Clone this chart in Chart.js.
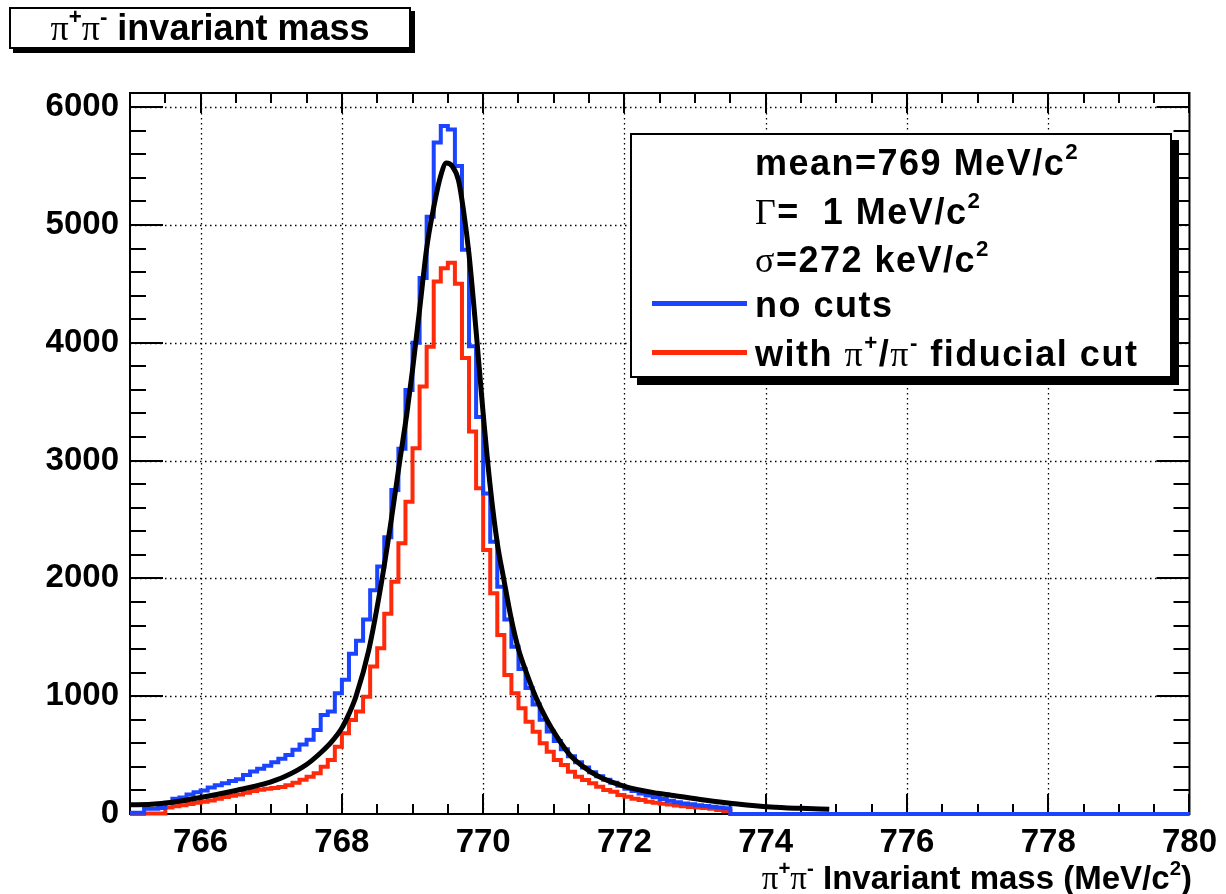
<!DOCTYPE html>
<html>
<head>
<meta charset="utf-8">
<script src="https://cdn.jsdelivr.net/npm/chart.js@4.4.0/dist/chart.umd.min.js"></script>
<style>
  body { margin: 0; background: #fff; }
  #wrap { position: relative; width: 1226px; height: 894px; font-family: "Liberation Sans", Arial, sans-serif; font-weight: bold; color: #000; }
  #plot { position: absolute; left: 0; top: 0; }
  .box { position: absolute; background: #fff; border: 2px solid #000; }
  .greek { font-family: "Liberation Serif", "DejaVu Serif", serif; font-weight: normal; }
  sup { font-size: 62%; line-height: 0; vertical-align: 0.7em; }
  .row { position: absolute; left: 123px; white-space: nowrap; font-size: 36px; line-height: 40px; letter-spacing: 1.5px; }
  .sample { position: absolute; left: 20px; width: 95px; height: 5px; }
</style>
</head>
<body>
<div id="wrap">
  <canvas id="plot" width="1226" height="894"></canvas>

  <div class="box" id="title" style="left:9px;top:7px;width:398px;height:38px;box-shadow:4px 4px 0 #000;">
    <div style="text-align:center;font-size:36px;line-height:38px;white-space:nowrap;"><span class="greek">π</span><sup>+</sup><span class="greek">π</span><sup>-</sup> invariant mass</div>
  </div>

  <div class="box" id="legend" style="left:630px;top:133px;width:538px;height:241px;box-shadow:7px 7px 0 #000;">
    <div class="row" style="top:8px">mean=769 MeV/c<sup>2</sup></div>
    <div class="row" style="top:57px"><span class="greek">Γ</span>=&nbsp; 1 MeV/c<sup>2</sup></div>
    <div class="row" style="top:105px"><span class="greek">σ</span>=272 keV/c<sup>2</sup></div>
    <div class="sample" style="top:166px;background:#1a44ff"></div>
    <div class="row" style="top:150px">no cuts</div>
    <div class="sample" style="top:215px;background:#ff2a0a"></div>
    <div class="row" style="top:199px">with <span class="greek">π</span><sup>+</sup>/<span class="greek">π</span><sup>-</sup> fiducial cut</div>
  </div>

  <div id="xtitle" style="position:absolute;right:34px;top:860px;font-size:33px;line-height:36px;white-space:nowrap;"><span class="greek">π</span><sup>+</sup><span class="greek">π</span><sup>-</sup> Invariant mass (MeV/c<sup>2</sup>)</div>
</div>

<script>
const x_min = 765
const x_max = 780
const y_min = 0
const y_max = 6120

const bin_start = 765.0
const bin_width = 0.1

// counts per 0.1 MeV bin, 765.0 .. 780.0
const no_cuts = [
  10, 10, 10, 45, 45, 50, 95, 130, 140, 165,
  185, 200, 225, 245, 260, 280, 295, 330, 360, 385,
  410, 440, 470, 500, 545, 590, 630, 713, 840, 870,
  1025, 1140, 1360, 1470, 1650, 1900, 2100, 2350, 2750, 3100,
  3600, 4000, 4550, 5070, 5700, 5840, 5810, 5500, 4790, 3970,
  3370, 2720, 2310, 1930, 1650, 1420, 1230, 1070, 930, 800,
  700, 620, 550, 490, 440, 395, 355, 320, 290, 265,
  240, 215, 195, 175, 158, 142, 127, 113, 100, 90,
  82, 75, 68, 62, 55, 48, 0, 0, 0, 0,
  0, 0, 0, 0, 0, 0, 0, 0, 0, 0,
  0, 0, 0, 0, 0, 0, 0, 0, 0, 0,
  0, 0, 0, 0, 0, 0, 0, 0, 0, 0,
  0, 0, 0, 0, 0, 0, 0, 0, 0, 0,
  0, 0, 0, 0, 0, 0, 0, 0, 0, 0,
  0, 0, 0, 0, 0, 0, 0, 0, 0, 0
]

const fiducial_cut = [
  0, 0, 0, 5, 5, 5, 55, 65, 75, 85,
  95, 105, 115, 130, 145, 155, 165, 180, 195, 205,
  215, 220, 230, 245, 265, 290, 317, 346, 402, 458,
  571, 685, 798, 869, 996, 1251, 1407, 1700, 1972, 2298,
  2651, 3105, 3628, 3967, 4519, 4633, 4680, 4500, 3870, 3246,
  2765, 2241, 1874, 1520, 1180, 1025, 897, 784, 699, 600,
  529, 458, 416, 359, 317, 289, 261, 232, 204, 189,
  161, 147, 130, 118, 105, 95, 88, 80, 72, 66,
  60, 55, 50, 45, 35, 25, 0, 0, 0, 0,
  0, 0, 0, 0, 0, 0, 0, 0, 0, 0,
  0, 0, 0, 0, 0, 0, 0, 0, 0, 0,
  0, 0, 0, 0, 0, 0, 0, 0, 0, 0,
  0, 0, 0, 0, 0, 0, 0, 0, 0, 0,
  0, 0, 0, 0, 0, 0, 0, 0, 0, 0,
  0, 0, 0, 0, 0, 0, 0, 0, 0, 0
]

// fit curve
const fit_mass = [
  765.0, 765.3, 765.6, 766.0, 766.5, 766.9, 767.2, 767.5, 767.7, 767.85,
  768.0, 768.1, 768.2, 768.38, 768.57, 768.7, 768.82, 768.92, 769.0, 769.1,
  769.2, 769.3, 769.4, 769.48, 769.56, 769.65, 769.72, 769.8, 769.9, 770.0,
  770.1, 770.2, 770.29, 770.4, 770.5, 770.6, 770.74, 770.9, 771.05, 771.23,
  771.4, 771.63, 772.0, 772.47, 772.66, 773.13, 773.6, 774.07, 774.5, 774.9
]
const fit_counts = [
  78, 82, 100, 140, 200, 255, 320, 420, 520, 610,
  730, 850, 1000, 1390, 2000, 2500, 3000, 3400, 3770, 4280,
  4800, 5150, 5420, 5525, 5500, 5380, 5130, 4750, 4100, 3400,
  2780, 2300, 2000, 1650, 1400, 1220, 1000, 800, 650, 500,
  410, 320, 235, 176, 160, 119, 85, 60, 48, 40
]

const x_tick_values = [766, 768, 770, 772, 774, 776, 778, 780]
const y_tick_values = [0, 1000, 2000, 3000, 4000, 5000, 6000]
const x_minor_step = 0.5
const y_minor_step = 200

const blue = "#1a44ff"
const red = "#ff2a0a"
const tick_font = { family: "'Liberation Sans', Arial, sans-serif", size: 33, weight: "bold" }

function histogram_points(counts)
{
  const points = counts.map((c, i) => ({ x: bin_start + i * bin_width, y: c }))
  points.push({ x: bin_start + counts.length * bin_width, y: counts[counts.length - 1] })
  return points
}

const fit_points = fit_mass.map((m, i) => ({ x: m, y: fit_counts[i] }))

function stroke_line(ctx, x0, y0, x1, y1)
{
  ctx.beginPath()
  ctx.moveTo(x0, y0)
  ctx.lineTo(x1, y1)
  ctx.stroke()
}

// ROOT style frame: dotted grid, inward ticks on all four sides
const frame_plugin =
{
  id: "root_frame",
  beforeDatasetsDraw(chart)
  {
    const ctx = chart.ctx
    const a = chart.chartArea
    const x = chart.scales.x
    const y = chart.scales.y

    ctx.save()
    ctx.strokeStyle = "#000"

    ctx.lineWidth = 1.3
    ctx.setLineDash([1.5, 3.5])
    x_tick_values.filter(v => v > x_min && v < x_max).forEach(v =>
    {
      const px = Math.round(x.getPixelForValue(v)) + 0.5
      stroke_line(ctx, px, a.top, px, a.bottom)
    })
    y_tick_values.filter(v => v > y_min).forEach(v =>
    {
      const py = Math.round(y.getPixelForValue(v)) + 0.5
      stroke_line(ctx, a.left, py, a.right, py)
    })
    ctx.setLineDash([])

    ctx.lineWidth = 2
    const nx = Math.round((x_max - x_min) / x_minor_step)
    for (let i = 0; i <= nx; i++)
    {
      const v = x_min + i * x_minor_step
      const len = x_tick_values.includes(v) ? 20 : 10
      const px = Math.round(x.getPixelForValue(v))
      stroke_line(ctx, px, a.bottom, px, a.bottom - len)
      stroke_line(ctx, px, a.top, px, a.top + len)
    }
    const ny = Math.floor((y_max - y_min) / y_minor_step)
    for (let i = 0; i <= ny; i++)
    {
      const v = y_min + i * y_minor_step
      const len = y_tick_values.includes(v) ? 33 : 16
      const py = Math.round(y.getPixelForValue(v))
      stroke_line(ctx, a.left, py, a.left + len, py)
      stroke_line(ctx, a.right, py, a.right - len, py)
    }

    ctx.strokeRect(a.left, a.top, a.right - a.left, a.bottom - a.top)
    ctx.restore()
  }
}

const plot_context = document.getElementById("plot").getContext("2d")

new Chart(plot_context,
{
  type: "line",
  data:
  {
    datasets:
    [
      {
        label: "fit",
        data: fit_points,
        borderColor: "#000",
        borderWidth: 5,
        pointRadius: 0,
        cubicInterpolationMode: "monotone",
        order: 0
      },
      {
        label: "no cuts",
        data: histogram_points(no_cuts),
        borderColor: blue,
        borderWidth: 4,
        pointRadius: 0,
        stepped: "after",
        clip: false,
        order: 1
      },
      {
        label: "with π+/π- fiducial cut",
        data: histogram_points(fiducial_cut),
        borderColor: red,
        borderWidth: 4,
        pointRadius: 0,
        stepped: "after",
        clip: false,
        order: 2
      }
    ]
  },
  options:
  {
    responsive: false,
    animation: false,
    devicePixelRatio: 1,
    layout: { padding: { top: 93, right: 32, left: 0, bottom: 0 } },
    plugins:
    {
      legend: { display: false },
      tooltip: { enabled: false }
    },
    scales:
    {
      x:
      {
        type: "linear",
        min: x_min,
        max: x_max,
        grid: { display: false, drawTicks: false },
        border: { display: false },
        afterBuildTicks: s => { s.ticks = x_tick_values.map(v => ({ value: v })) },
        afterFit: s => { s.height = 80 },
        ticks: { color: "#000", font: tick_font, padding: 9, maxRotation: 0, autoSkip: false, callback: v => String(v) }
      },
      y:
      {
        type: "linear",
        min: y_min,
        max: y_max,
        grid: { display: false, drawTicks: false },
        border: { display: false },
        afterBuildTicks: s => { s.ticks = y_tick_values.map(v => ({ value: v })) },
        afterFit: s => { s.width = 130 },
        ticks: { color: "#000", font: tick_font, padding: 11, autoSkip: false, callback: v => String(v) }
      }
    }
  },
  plugins: [frame_plugin]
})
</script>
</body>
</html>
